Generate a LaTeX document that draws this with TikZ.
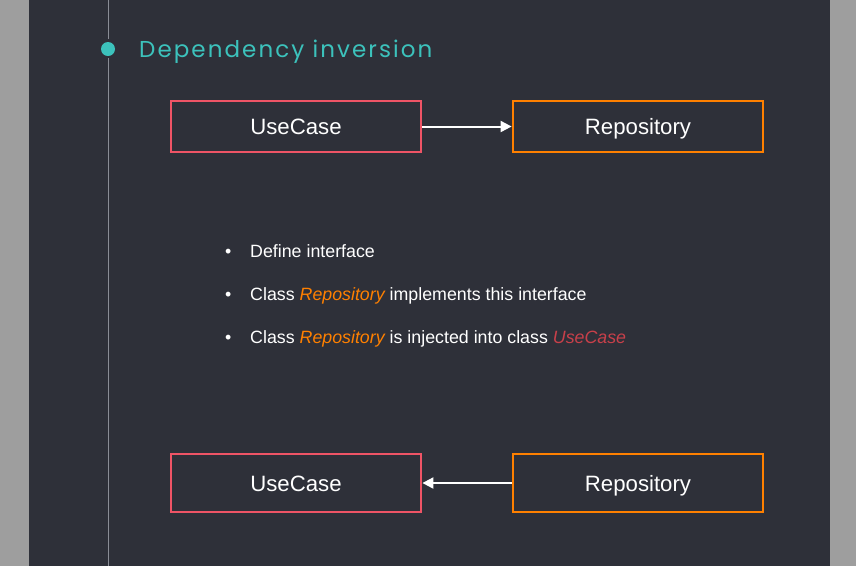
\documentclass[tikz,border=0pt]{standalone}
\usepackage{fontspec}
\setmainfont{Liberation Sans}
\newfontfamily\titlefont[LetterSpace=9]{Poppins}
\usetikzlibrary{arrows.meta}
\definecolor{slidebg}{HTML}{2E3039}
\definecolor{sidegray}{HTML}{9E9E9E}
\definecolor{teal}{HTML}{3CC2BC}
\definecolor{ucred}{HTML}{EF5466}
\definecolor{repoorange}{HTML}{FF8000}
\definecolor{ucitalic}{HTML}{C8404A}
\definecolor{rail}{HTML}{8A8D96}
\tikzset{
  classbox/.style={draw, line width=2.8pt, minimum width=250pt, text=white,
    font=\fontsize{22.2}{26}\selectfont, inner sep=0pt, text height=16pt, text depth=0pt},
  usecase/.style={classbox, draw=ucred},
  repo/.style={classbox, draw=repoorange},
  dep/.style={draw=white, line width=2pt, -{Triangle[length=11pt,width=11pt]}},
  bullet/.style={anchor=base west, text=white, font=\fontsize{17.8}{21}\selectfont, inner sep=0pt},
}
\begin{document}
\begin{tikzpicture}[x=1pt,y=-1pt]
  \useasboundingbox (0,0) rectangle (856,566);
  % page background and side margins
  \fill[sidegray] (0,0) rectangle (856,566);
  \fill[slidebg] (29,0) rectangle (830,566);
  % timeline rail with its marker
  \draw[rail, line width=1pt] (108,0) -- (108,39);
  \draw[rail, line width=1pt] (108,58) -- (108,566);
  \fill[teal] (108,49) circle (7);
  \node[anchor=base west, text=teal, inner sep=0pt, font=\titlefont\fontsize{23}{27}\selectfont] (title) at (139,57) {Dependency inversion};
  % direct dependency
  \node[usecase, minimum height=51pt] (uc1) at (296,126.5) {UseCase};
  \node[repo, minimum height=51pt] (rp1) at (638,126.5) {Repository};
  \draw[dep] (uc1.east) -- (rp1.west);
  % steps
  \node[bullet] (b1) at (225,257) {\textbullet};
  \node[bullet] (t1) at (250,257) {Define interface};
  \node[bullet] (b2) at (225,300) {\textbullet};
  \node[bullet] (t2) at (250,300) {Class \textcolor{repoorange}{\itshape Repository} implements this interface};
  \node[bullet] (b3) at (225,343) {\textbullet};
  \node[bullet] (t3) at (250,343) {Class \textcolor{repoorange}{\itshape Repository} is injected into class \textcolor{ucitalic}{\itshape UseCase}};
  % inverted dependency
  \node[usecase, minimum height=58pt] (uc2) at (296,483) {UseCase};
  \node[repo, minimum height=58pt] (rp2) at (638,483) {Repository};
  \draw[dep] (rp2.west) -- (uc2.east);
\end{tikzpicture}
\end{document}
